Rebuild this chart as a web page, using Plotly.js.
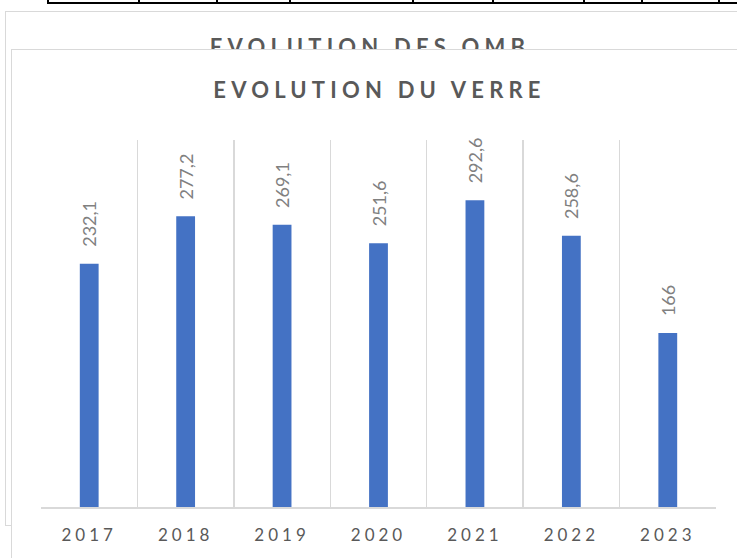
<!DOCTYPE html>
<html><head><meta charset="utf-8">
<script src="https://cdn.plot.ly/plotly-3.0.1.min.js"></script>
<style>
html,body{margin:0;padding:0;width:737px;height:558px;overflow:hidden;background:#fff;}
#tbl{position:absolute;left:47px;top:2px;width:700px;height:1.5px;background:#000;z-index:1;}
.tv{position:absolute;top:0;width:1.5px;height:3.5px;background:#000;z-index:1;}
#back{position:absolute;left:5px;top:11px;width:800px;height:515px;border:1.5px solid #d9d9d9;box-sizing:border-box;z-index:1;}
#backTitle{position:absolute;left:0;top:36px;width:740px;text-align:center;font-family:Lato;font-weight:bold;font-size:22px;line-height:22px;letter-spacing:5.2px;color:#595959;z-index:1;white-space:nowrap;}
#front{position:absolute;left:11px;top:49px;width:800px;height:600px;border:1.5px solid #d9d9d9;background:#fff;box-sizing:border-box;z-index:2;}
#chart{position:absolute;left:0;top:0;width:737px;height:558px;z-index:3;}
.gtitle{letter-spacing:5.2px;}
.xtick text{letter-spacing:4px;}
</style>
</head><body>
<div id="tbl"></div>
<div class="tv" style="left:47px"></div>
<div class="tv" style="left:138px"></div>
<div class="tv" style="left:216px"></div>
<div class="tv" style="left:289px"></div>
<div class="tv" style="left:412px"></div>
<div class="tv" style="left:492px"></div>
<div class="tv" style="left:583px"></div>
<div class="tv" style="left:641px"></div>
<div class="tv" style="left:718px"></div>
<div id="back"></div>
<div id="backTitle">EVOLUTION DES OMB</div>
<div id="front"></div>
<div id="chart"></div>
<script>
var years = ['2017', '2018', '2019', '2020', '2021', '2022', '2023'];
var verre = [232.1, 277.2, 269.1, 251.6, 292.6, 258.6, 166];
var labels = ['232,1', '277,2', '269,1', '251,6', '292,6', '258,6', '166'];
var chartTitle = 'EVOLUTION DU VERRE';

var trace = {
  type: 'bar',
  x: years,
  y: verre,
  width: 0.195,
  marker: {color: '#4472C4'},
  text: labels.map(function (s) { return '\u00a0\u00a0\u00a0' + s; }),
  textposition: 'outside',
  textangle: -90,
  textfont: {family: 'Lato', size: 18, color: '#808080'},
  cliponaxis: false,
  constraintext: 'none',
  hoverinfo: 'x+y'
};

var layout = {
  width: 737,
  height: 558,
  margin: {l: 41, r: 21, t: 140, b: 51},
  paper_bgcolor: 'rgba(0,0,0,0)',
  plot_bgcolor: 'rgba(0,0,0,0)',
  showlegend: false,
  title: {
    text: chartTitle,
    font: {family: 'Lato', size: 22, weight: 'bold', color: '#595959'},
    xref: 'container', x: 0.515, xanchor: 'center',
    yref: 'container', y: 0.8387, yanchor: 'middle'
  },
  xaxis: {
    type: 'category',
    tickson: 'boundaries',
    showgrid: true,
    gridcolor: '#d9d9d9',
    gridwidth: 1.5,
    showline: true,
    linecolor: '#d9d9d9',
    linewidth: 1.5,
    ticks: '',
    ticklabelstandoff: 12,
    tickfont: {family: 'Lato', size: 17, color: '#595959'},
    zeroline: false
  },
  yaxis: {
    range: [0, 350],
    visible: false,
    showgrid: false,
    zeroline: false
  }
};

Plotly.newPlot('chart', [trace], layout, {displayModeBar: false, staticPlot: true});
</script>
</body></html>
